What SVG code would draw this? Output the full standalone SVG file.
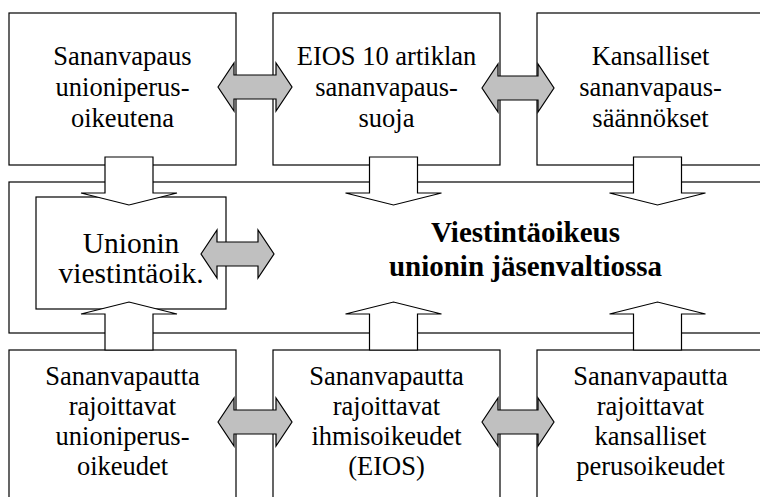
<svg xmlns="http://www.w3.org/2000/svg" width="760" height="497" viewBox="0 0 760 497">
<style>
.box{fill:#fff;stroke:#000;stroke-width:1.2}
.t{font-family:"Liberation Serif","Times New Roman",serif;font-size:26.5px;fill:#000;text-anchor:middle}
.ti{font-size:29.5px}
.tb{font-family:"Liberation Serif","Times New Roman",serif;font-size:29px;font-weight:bold;fill:#000;text-anchor:middle}
.ga{fill:#c0c0c0;stroke:#000;stroke-width:1.2;stroke-linejoin:miter}
.wa{fill:#fff;stroke:#000;stroke-width:1.2;stroke-linejoin:miter}
</style>
<rect width="760" height="497" fill="#fff"/>
<g id="center">
<rect class="box" x="9" y="182" width="760" height="151"/>
<text class="tb" x="525.5" y="242">Viestintäoikeus</text>
<text class="tb" x="525.5" y="276">unionin jäsenvaltiossa</text>
</g>
<g id="union-comm">
<rect class="box" x="36" y="197" width="190" height="112"/>
<text class="t ti" x="131" y="253">Unionin</text>
<text class="t ti" x="131" y="283">viestintäoik.</text>
</g>
<g id="top1">
<rect class="box" x="9" y="13" width="227" height="152"/>
<text class="t" x="122.5" y="65">Sananvapaus</text>
<text class="t" x="122.5" y="96">unioniperus-</text>
<text class="t" x="122.5" y="127">oikeutena</text>
</g>
<g id="top2">
<rect class="box" x="273" y="13" width="227" height="152"/>
<text class="t" x="386.5" y="65">EIOS 10 artiklan</text>
<text class="t" x="386.5" y="96">sananvapaus-</text>
<text class="t" x="386.5" y="127">suoja</text>
</g>
<g id="top3">
<rect class="box" x="537" y="13" width="227" height="152"/>
<text class="t" x="650.5" y="65">Kansalliset</text>
<text class="t" x="650.5" y="96">sananvapaus-</text>
<text class="t" x="650.5" y="127">säännökset</text>
</g>
<g id="bot1">
<rect class="box" x="9" y="350" width="227" height="160"/>
<text class="t" x="122.5" y="385">Sananvapautta</text>
<text class="t" x="122.5" y="415">rajoittavat</text>
<text class="t" x="122.5" y="445">unioniperus-</text>
<text class="t" x="122.5" y="475">oikeudet</text>
</g>
<g id="bot2">
<rect class="box" x="273" y="350" width="227" height="160"/>
<text class="t" x="386.5" y="385">Sananvapautta</text>
<text class="t" x="386.5" y="415">rajoittavat</text>
<text class="t" x="386.5" y="445">ihmisoikeudet</text>
<text class="t" x="386.5" y="475">(EIOS)</text>
</g>
<g id="bot3">
<rect class="box" x="537" y="350" width="227" height="160"/>
<text class="t" x="650.5" y="385">Sananvapautta</text>
<text class="t" x="650.5" y="415">rajoittavat</text>
<text class="t" x="650.5" y="445">kansalliset</text>
<text class="t" x="650.5" y="475">perusoikeudet</text>
</g>
<g id="connectors">
<polygon class="ga" points="218,87 234,63 234,75 276,75 276,63 292,87 276,111 276,99 234,99 234,111"/>
<polygon class="ga" points="482,88 498,64 498,76 538,76 538,64 554,88 538,112 538,100 498,100 498,112"/>
<polygon class="ga" points="201,254 217,230 217,242 258,242 258,230 274,254 258,278 258,266 217,266 217,278"/>
<polygon class="ga" points="218,422 234,398 234,410 276,410 276,398 292,422 276,446 276,434 234,434 234,446"/>
<polygon class="ga" points="482,422 498,398 498,410 538,410 538,398 554,422 538,446 538,434 498,434 498,446"/>
<polygon class="wa" points="105,157 153,157 153,193 177,193 129,205 81,193 105,193"/>
<polygon class="wa" points="369.5,157 417.5,157 417.5,193 441.5,193 393.5,205 345.5,193 369.5,193"/>
<polygon class="wa" points="633.5,157 681.5,157 681.5,193 705.5,193 657.5,205 609.5,193 633.5,193"/>
<polygon class="wa" points="105,350 153,350 153,314 177,314 129,302 81,314 105,314"/>
<polygon class="wa" points="369.5,350 417.5,350 417.5,314 441.5,314 393.5,302 345.5,314 369.5,314"/>
<polygon class="wa" points="633.5,350 681.5,350 681.5,314 705.5,314 657.5,302 609.5,314 633.5,314"/>
</g>
</svg>
